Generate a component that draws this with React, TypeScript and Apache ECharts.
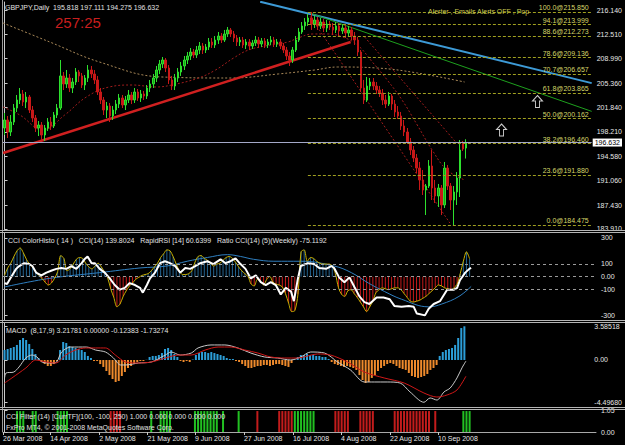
import React, { useEffect, useRef } from "react";
import * as echarts from "echarts";

const W = 625;
const H = 445;
const NCAT = 190;
const FONT = '"Liberation Sans", Arial, sans-serif';
const FS = 7;

// ---------- main pane: daily candles [open, close, low, high] ----------
const candles: number[][] = [
  [198.77, 199.95, 197.74, 200.98], [199.95, 198.18, 197.3, 200.54], [198.18, 199.65, 197.59, 200.68],
  [199.65, 201.71, 199.21, 202.3], [201.71, 202.89, 201.13, 203.63], [202.89, 203.78, 202.3, 204.66],
  [203.78, 202.6, 202.01, 204.36], [202.6, 203.33, 201.71, 204.07], [203.33, 201.42, 200.98, 203.63],
  [201.42, 200.24, 199.65, 202.01], [200.24, 198.77, 198.18, 200.68], [198.77, 199.21, 197.59, 199.8],
  [199.21, 197.74, 197.0, 199.65], [197.74, 198.77, 196.86, 199.21], [198.77, 199.65, 198.33, 200.24],
  [199.65, 199.07, 198.48, 200.39], [199.07, 200.68, 198.77, 201.13], [200.68, 201.71, 200.24, 202.3],
  [201.71, 206.43, 201.42, 208.78], [206.43, 205.25, 204.36, 207.01], [205.25, 206.13, 204.66, 207.31],
  [206.13, 204.66, 204.07, 206.72], [204.66, 205.54, 203.92, 206.13], [205.54, 207.01, 205.1, 207.6],
  [207.01, 206.43, 205.54, 207.31], [206.43, 205.1, 204.66, 206.87], [205.1, 206.13, 204.36, 206.57],
  [206.13, 207.31, 205.54, 208.04], [207.31, 206.72, 206.13, 207.9], [206.72, 205.84, 205.25, 207.31],
  [205.84, 204.07, 203.63, 206.43], [204.07, 202.89, 202.3, 204.66], [202.89, 201.42, 200.68, 203.33],
  [201.42, 202.01, 200.24, 202.6], [202.01, 200.54, 199.65, 202.45], [200.54, 201.42, 199.95, 202.01],
  [201.42, 202.3, 200.83, 202.89], [202.3, 203.19, 201.71, 203.78], [203.19, 202.16, 201.71, 203.63],
  [202.16, 202.89, 201.42, 203.48], [202.89, 203.63, 202.45, 204.36], [203.63, 202.89, 202.3, 204.07],
  [202.89, 204.07, 202.45, 204.66], [204.07, 203.19, 202.75, 204.51], [203.19, 203.78, 202.6, 204.36],
  [203.78, 203.48, 202.89, 204.22], [203.48, 204.66, 203.04, 205.1], [204.66, 205.25, 204.07, 205.84],
  [205.25, 206.13, 204.66, 206.72], [206.13, 207.31, 205.54, 207.9], [207.31, 208.19, 206.72, 208.78],
  [208.19, 208.78, 207.6, 209.22], [208.78, 207.6, 207.01, 209.07], [207.6, 205.84, 205.25, 208.04],
  [205.84, 204.95, 204.36, 206.43], [204.95, 206.13, 204.36, 206.72], [206.13, 207.01, 205.54, 207.6],
  [207.01, 207.9, 206.43, 208.49], [207.9, 208.78, 207.31, 209.37], [208.78, 209.37, 208.19, 209.96],
  [209.37, 209.96, 208.78, 210.55], [209.96, 209.52, 209.07, 210.4], [209.52, 210.25, 209.07, 210.84],
  [210.25, 210.84, 209.66, 211.43], [210.84, 210.25, 209.66, 211.28], [210.25, 210.69, 209.81, 211.14],
  [210.69, 211.43, 210.25, 212.02], [211.43, 210.99, 210.55, 212.02], [210.99, 211.72, 210.55, 212.31],
  [211.72, 212.31, 211.14, 212.9], [212.31, 211.72, 211.28, 212.75], [211.72, 212.61, 211.43, 213.2],
  [212.61, 213.2, 212.17, 213.64], [213.2, 212.61, 212.17, 213.49], [212.61, 212.02, 211.43, 213.05],
  [212.02, 211.43, 210.84, 212.46], [211.43, 211.72, 210.84, 212.17], [211.72, 210.99, 210.55, 212.17],
  [210.99, 211.43, 210.4, 211.87], [211.43, 210.84, 210.25, 211.87], [210.84, 211.28, 210.4, 211.72],
  [211.28, 211.72, 210.84, 212.31], [211.72, 211.14, 210.55, 212.17], [211.14, 211.58, 210.69, 212.02],
  [211.58, 210.99, 210.55, 212.02], [210.99, 211.43, 210.55, 211.87], [211.43, 211.72, 210.99, 212.31],
  [211.72, 211.14, 210.69, 212.17], [211.14, 211.43, 210.69, 211.87], [211.43, 210.84, 210.4, 211.87],
  [210.84, 210.25, 209.81, 211.28], [210.25, 209.37, 208.78, 210.69], [209.37, 208.78, 207.9, 209.96],
  [208.78, 210.25, 208.34, 210.69], [210.25, 211.72, 209.96, 212.31], [211.72, 212.9, 211.43, 213.49],
  [212.9, 213.79, 212.61, 214.37], [213.79, 214.37, 213.2, 214.96], [214.37, 214.96, 213.79, 215.55],
  [214.96, 214.08, 213.2, 215.85], [214.08, 214.67, 213.49, 215.26], [214.67, 213.79, 213.2, 215.11],
  [213.79, 214.37, 213.34, 214.96], [214.37, 213.49, 212.9, 214.82], [213.49, 214.08, 212.9, 214.67],
  [214.08, 213.64, 213.2, 214.52], [213.64, 213.2, 212.46, 214.23], [213.2, 213.79, 212.75, 214.37],
  [213.79, 213.05, 212.31, 214.23], [213.05, 213.49, 212.61, 214.08], [213.49, 212.75, 212.02, 213.93],
  [212.75, 213.2, 212.31, 213.79], [213.2, 212.31, 211.72, 213.64], [212.31, 211.72, 210.99, 212.9],
  [211.72, 209.96, 209.37, 212.17], [209.96, 204.66, 204.07, 210.25], [204.66, 202.89, 202.3, 205.84],
  [202.89, 204.95, 202.6, 206.28], [204.95, 205.54, 204.36, 206.13], [205.54, 204.95, 204.36, 206.13],
  [204.95, 204.36, 203.78, 205.54], [204.36, 203.92, 203.33, 204.95], [203.92, 202.89, 202.16, 204.51],
  [202.89, 202.3, 201.71, 203.63], [202.3, 203.48, 202.01, 204.07], [203.48, 202.3, 201.42, 203.78],
  [202.3, 201.13, 200.39, 202.89], [201.13, 200.54, 200.1, 202.01], [200.54, 199.07, 198.48, 201.13],
  [199.07, 198.18, 197.59, 199.95], [198.18, 196.71, 196.42, 198.77], [196.71, 195.53, 194.8, 197.3],
  [195.53, 194.35, 193.77, 196.12], [194.35, 192.88, 192.15, 194.94], [192.88, 191.12, 189.64, 193.77],
  [191.12, 189.64, 188.91, 192.59], [189.64, 190.23, 185.96, 190.53], [190.23, 193.18, 189.94, 194.06],
  [193.18, 189.94, 188.17, 195.53], [189.94, 188.76, 187.73, 191.12], [188.76, 189.94, 187.14, 190.53],
  [189.94, 187.44, 185.96, 190.38], [187.44, 192.88, 186.99, 193.77], [192.88, 190.23, 189.64, 193.32],
  [190.23, 188.17, 186.7, 190.67], [188.17, 189.35, 184.475, 190.23], [189.35, 191.41, 187.44, 192.29],
  [191.41, 195.53, 188.61, 197.0], [196.42, 195.68, 195.39, 196.86], [195.818, 196.632, 194.275, 197.111],
];

const priceTicks = [216.14, 212.51, 208.99, 205.36, 201.84, 198.21, 194.58, 191.06, 187.43, 183.91];
const lastPrice = 196.632;

const fibPct = [100.0, 94.1, 88.6, 78.6, 70.7, 61.8, 50.0, 38.2, 23.6, 0.0];
const fibPrice = [215.85, 213.999, 212.273, 209.136, 206.657, 203.865, 200.162, 196.46, 191.88, 184.475];
const fibStartBar = 97.9;

// [bar position, price]
const tanMA = [
  [-0.5, 214.23], [14.6, 211.43], [30.6, 208.49], [50.8, 206.28], [73.2, 206.13], [88.3, 206.72],
  [100.1, 207.31], [107.5, 207.75], [120.3, 207.6], [133.2, 206.87], [148.5, 205.54],
];
const redMA = [
  [-0.5, 201.86], [4.95, 200.68], [12.3, 198.48], [19.4, 200.68], [26.4, 203.33], [33.8, 204.81],
  [41.2, 205.1], [48.9, 204.81], [54.0, 205.1], [62.6, 206.13], [68.1, 207.31], [73.9, 209.07],
  [78.7, 210.25], [84.1, 210.84], [91.5, 211.43], [94.7, 212.02], [99.5, 212.61], [104.3, 212.61],
  [109.1, 212.17], [113.9, 210.99], [118.7, 208.49], [123.5, 205.84], [128.3, 202.89], [133.2, 199.21],
  [138.0, 195.53], [142.8, 192.59], [148.5, 191.12],
];
const redTrend = [[-0.5, 195.09], [111.7, 211.43]];
const blueTrend = [[82.5, 217.36], [189.5, 205.38]];
const greenTrend = [[98.5, 215.7], [189.5, 201.22]];
const dotTrend1 = [[97.9, 215.7], [143.7, 184.79]];
const dotTrend2 = [[116.2, 212.17], [145.9, 196.56]];
const arrows = [[172.0, 202.67], [160.4, 198.48]];

// ---------- CCI pane ----------
const cci = [
  10, 68, 105, 157, 201, 223, 186, 135, 98, 76,
  39, 10, -13, -42, -64, -49, -13, 39, 164, 142,
  46, 61, 98, 135, 149, 142, 105, 76, 61, 83,
  105, 76, 39, -5, -93, -160, -233, -211, -152, -108,
  -71, -49, -20, -5, 10, 17, 24, 46, 76, 105,
  149, 179, 208, 201, 157, 98, 46, 17, 17, 24,
  46, 112, 157, 164, 142, 127, 105, 83, 98, 105,
  127, 149, 157, 142, 112, 76, 46, 24, 2, -57,
  -71, -20, -35, -64, -20, 2, -42, -57, -64, -79,
  -130, -204, -270, -262, -137, 193, 208, 120, 149, 142,
  120, 105, 98, 98, 98, 83, 24, -86, -137, -152,
  -108, -100, -130, -160, -196, -233, -270, -233, -189, -123,
  -100, -86, -93, -100, -93, -86, -86, -100, -130, -160,
  -189, -196, -189, -182, -167, -152, -130, -108, -86, -64,
  -71, -86, -93, -100, -86, -57, 24, 120, 193, 139.8,
];
const rapidRsi = [
  [0, -49], [0.8, -56], [2.4, 10], [3.7, 61], [4.7, 83], [6.3, 105], [7.9, 98], [8.9, 83], [10.1, 32],
  [11.8, 10], [13.4, 32], [14.9, 46], [16.6, 61], [18.2, 68], [19.8, 61], [21.4, 83], [23, 61],
  [24.7, 105], [25.6, 135], [26.6, 157], [27.9, 105], [28.9, 105], [30.5, 61], [32.1, 32], [33.7, -13],
  [35.3, -64], [36.9, -100], [38.5, -86], [40.1, -49], [41.8, -64], [43.4, -86], [44.3, -123],
  [45.6, -64], [46.6, -13], [48.2, 32], [49.8, 105], [51.4, 120], [53, 105], [54.7, 83], [56.3, 32],
  [57.9, 68], [59.5, 61], [61.1, 83], [62.7, 105], [65, 120], [66.9, 98], [69.2, 135], [70.8, 105],
  [72.4, 120], [74, 142], [75.6, 98], [77.2, 61], [78.9, -13], [80.5, 10], [82.1, -42], [83.7, -64],
  [85.3, -42], [86.9, -64], [88.5, -137], [90.1, -86], [91.8, -115], [92.7, -189], [94, -13],
  [94.9, 83], [97.2, 105], [99.2, 98], [100.8, 68], [103, 61], [104.7, 83], [105.6, 68], [107.2, -5],
  [108.9, -42], [110.5, -5], [112.1, -79], [113.7, -152], [115.3, -196], [116.9, -211], [119.2, -160],
  [121.4, -160], [123.4, -174], [124.9, -226], [127.2, -233], [129.5, -226], [131.1, -233],
  [132.1, -285], [134.7, -299], [135.9, -248], [137.5, -211], [139.5, -189], [141.8, -100], [144, -100],
  [145, -86], [145.9, -27], [147.6, 32], [148.9, 61], [149.5, 68],
];
const ratioCci = [
  [0, -79], [14.3, -13], [30.5, 32], [43.4, 68], [52, 83], [58.5, 120], [65, 149], [71.4, 171],
  [75.6, 157], [79.8, 135], [86.3, 120], [95, 120], [105.6, 83], [111.1, 32], [116.6, -49],
  [121.8, -115], [127.2, -174], [135.9, -233], [140.1, -211], [145.6, -152], [149.5, -75],
];
const cciTicks = [300, 100, 0, -100, -300];
const cciLevels = [100, 0, -100];

// ---------- MACD pane ----------
const macdHist = [
  1.06, 1.17, 1.28, 1.38, 1.6, 2.13, 2.34, 2.13, 1.7, 1.17,
  0.64, 0.21, -0.21, -0.43, -0.64, -0.64, -0.43, -0.11, 1.06, 1.91,
  1.81, 1.49, 1.38, 1.28, 1.17, 1.06, 0.85, 0.43, 0.21, -0.11,
  -0.11, -0.43, -0.74, -1.17, -1.6, -2.02, -2.34, -2.23, -1.7, -1.28,
  -0.85, -0.64, -0.43, -0.21, -0.11, -0.11, 0.02, 0.32, 0.43, 0.43,
  0.53, 0.74, 1.17, 1.28, 1.06, 0.64, 0.32, -0.11, -0.21, -0.11,
  -0.21, 0.05, 0.53, 0.74, 0.85, 0.85, 0.74, 0.85, 0.74, 0.64,
  0.53, 0.43, 0.21, 0.11, 0.11, -0.11, -0.21, -0.43, -0.64, -0.85,
  -0.85, -0.74, -0.64, -0.64, -0.53, -0.53, -0.64, -0.53, -0.43, -0.43,
  -0.53, -0.64, -0.74, -0.32, 0.05, 0.32, 0.53, 0.53, 0.64, 0.53,
  0.53, 0.43, 0.43, 0.32, 0.32, 0.11, -0.21, -0.43, -0.53, -0.64,
  -0.74, -0.64, -0.74, -0.85, -1.06, -1.6, -2.13, -2.45, -2.34, -1.91,
  -1.6, -1.17, -0.85, -0.64, -0.43, -0.32, -0.43, -0.64, -0.85, -0.96,
  -1.06, -1.38, -1.7, -1.81, -1.91, -1.81, -1.7, -1.49, -1.06, -0.85,
  -0.53, 0.43, 0.85, 1.06, 1.17, 1.28, 1.6, 2.34, 3.4, 3.585,
];
const macdMain = [
  [0, -1.91], [0.5, -1.38], [3, -1.28], [4.7, -0.74], [6.9, 0.21], [8.9, 0.53], [10.5, 0.32],
  [12.1, -0.21], [15.3, -0.32], [16.9, -0.21], [18.5, 0.85], [21.4, 1.38], [24, 1.38], [26.6, 1.38],
  [29.5, 1.06], [32.7, 0.85], [35.3, 0.21], [37.6, -0.53], [39.2, -0.53], [43.4, -0.32], [47.6, -0.21],
  [52.1, 0.53], [54, 0.85], [56.9, 0.53], [60.5, 0.74], [62.7, 1.28], [66.9, 1.6], [71.4, 1.6],
  [75.6, 1.28], [79.8, 0.74], [84.3, 0.32], [88.5, 0.21], [92.7, 0], [96, 0.32], [99.2, 0.85],
  [103.7, 0.74], [107.9, -0.21], [112.1, -1.06], [116.6, -2.34], [119.8, -2.34], [124, -2.34],
  [128.2, -2.45], [131.4, -3.4], [135.9, -4.497], [137.9, -4.04], [140.1, -4.26], [142.4, -3.4],
  [144.4, -2.98], [146.6, -1.91], [148.2, -0.85], [149.5, -0.12],
];
const macdSignal = [
  [0, -2.45], [2.4, -1.91], [6.9, -0.85], [10.1, 0], [13.4, -0.21], [16.6, -0.32], [19.8, 0.53],
  [23, 1.06], [26.3, 1.28], [29.5, 1.28], [32.7, 1.28], [35.9, 0.53], [39.2, -0.21], [43.4, -0.32],
  [47.6, -0.21], [52.1, 0.21], [56.3, 0.53], [60.5, 0.53], [65, 1.06], [69.2, 1.38], [73.4, 1.38],
  [77.9, 1.06], [82.1, 0.74], [86.3, 0.32], [90.8, 0.21], [95, 0.21], [101.4, 0.64], [105.6, 0.53],
  [111.1, -0.21], [116.6, -1.28], [123, -1.91], [129.5, -2.45], [135.9, -3.51], [140.1, -3.94],
  [143.4, -3.72], [146.6, -3.19], [149.5, -1.73],
];
const macdTicks = [3.58518, 0, -4.4968];

// ---------- CCI filter pane: 1 = up (green), -1 = down (red), 0 = none ----------
const filterState = [
  0, 0, 0, 0, 1, 1, 1, 0, 0, 1,
  1, 0, 0, 0, 0, 0, 0, 1, 1, 1,
  1, 0, 0, 0, 0, 0, 0, 0, 0, 0,
  0, 0, 0, 0, -1, -1, -1, -1, 0, 0,
  0, 0, 0, 0, 0, 0, 0, 1, 0, 0,
  1, 1, 1, 1, 0, 0, 0, 0, 0, 0,
  0, 1, 1, 1, 1, 1, 1, 1, 1, 0,
  1, 0, 0, 0, 0, 1, 0, 0, 0, 0,
  0, -1, 0, 0, 0, 0, 0, 0, -1, -1,
  -1, -1, -1, 1, 1, 1, 1, 1, 1, 1,
  0, 0, 0, 0, 0, 0, -1, -1, -1, -1,
  -1, 0, 0, 0, -1, -1, -1, -1, -1, 0,
  0, 0, 0, 0, 0, -1, -1, -1, -1, -1,
  -1, -1, -1, -1, -1, -1, -1, 0, -1, 0,
  0, 0, 0, 0, 0, 0, 0, 1, 1, 1,
];
const filterTicks = [1.05, 0];

// ---------- time axis ----------
const dateTicks = [-0.5, 14.6, 30.3, 45.8, 61, 76.7, 92.4, 107.8, 123.5, 138.9];
const dateLabels = [
  "26 Mar 2008", "14 Apr 2008", "2 May 2008", "21 May 2008", "9 Jun 2008",
  "27 Jun 2008", "16 Jul 2008", "4 Aug 2008", "22 Aug 2008", "10 Sep 2008",
];

function buildOption(): any {
  const cats = Array.from({ length: NCAT }, (_, i) => String(i));
  const grids = [
    { left: 3, top: 2, width: 593, height: 228 },
    { left: 3, top: 233, width: 593, height: 87 },
    { left: 3, top: 323, width: 593, height: 84 },
    { left: 3, top: 410, width: 593, height: 22 },
  ];
  const catAxis = (gi: number, pos: string) => ({
    type: "category", gridIndex: gi, data: cats, boundaryGap: true, show: false, position: pos,
  });
  const valAxis = (gi: number, pos: string) => ({
    type: "value", gridIndex: gi, min: -0.5, max: 189.5, show: false, position: pos,
    splitLine: { show: false },
  });
  const near = (arr: number[], v: number) => arr.findIndex((a) => Math.abs(a - v) < 1e-6);
  const yAx = (gi: number, min: number, max: number, ticks: number[], fmt: (v: number) => string) => ({
    type: "value", gridIndex: gi, min, max, position: "right",
    axisLine: { show: true, lineStyle: { color: "#c8c8c8", width: 1 } },
    axisTick: { show: true, inside: false, length: 3, customValues: ticks, lineStyle: { color: "#c8c8c8" } },
    axisLabel: {
      show: true, customValues: ticks, formatter: fmt, color: "#e6e6e6",
      fontSize: FS, fontFamily: FONT, margin: 5,
    },
    splitLine: { show: false },
  });

  const xAxis = [
    catAxis(0, "bottom"), valAxis(0, "top"),
    catAxis(1, "bottom"), valAxis(1, "top"),
    catAxis(2, "bottom"), valAxis(2, "top"),
    catAxis(3, "top"),
    {
      type: "value", gridIndex: 3, min: -0.5, max: 189.5, position: "bottom",
      axisLine: { show: true, lineStyle: { color: "#a8a8a8" } },
      axisTick: { show: true, length: 3, customValues: dateTicks, lineStyle: { color: "#c8c8c8" } },
      axisLabel: {
        show: true, customValues: dateTicks, align: "left", margin: 3,
        formatter: (v: number) => dateLabels[near(dateTicks, v)] ?? "",
        color: "#e6e6e6", fontSize: FS, fontFamily: FONT,
      },
      splitLine: { show: false },
    },
  ];

  const yAxis = [
    yAx(0, 183.756, 217.318, priceTicks, (v) => v.toFixed(3)),
    yAx(1, -334.8, 338.6, cciTicks, (v) => (v === 0 ? "0.00" : String(v))),
    yAx(2, -5.0, 3.936, macdTicks, (v) => (v === 0 ? "0.00" : v.toFixed(5))),
    yAx(3, 0, 1.05, filterTicks, (v) => v.toFixed(2)),
  ];

  const ln = (name: string, xi: number, yi: number, data: any, color: string, width: number, type: any = "solid", extra: any = {}) => ({
    name, type: "line", xAxisIndex: xi, yAxisIndex: yi, data, showSymbol: false, symbol: "none",
    lineStyle: { color, width, type }, silent: true, z: 3, ...extra,
  });

  const series: any[] = [
    {
      name: "GBPJPY", type: "candlestick", xAxisIndex: 0, yAxisIndex: 0, data: candles, barWidth: 2,
      itemStyle: { color: "#12a812", color0: "#c81818", borderColor: "#2ee02e", borderColor0: "#c81818", borderWidth: 1 },
      z: 4,
      markLine: {
        symbol: "none", silent: true, animation: false,
        lineStyle: { color: "#a4a8c8", width: 1, type: "solid" },
        label: {
          show: true, position: "end", formatter: lastPrice.toFixed(3), backgroundColor: "#ffffff",
          color: "#000", fontSize: FS, fontFamily: FONT, padding: [1, 2, 0, 2], distance: 1,
        },
        data: [{ yAxis: lastPrice }],
      },
    },
    ln("tanMA", 1, 0, tanMA, "#a88858", 1, [2, 2], { smooth: 0.4 }),
    ln("redMA", 1, 0, redMA, "#a01c1c", 1, [2, 2], { smooth: 0.4 }),
    ln("dot1", 1, 0, dotTrend1, "#a01c1c", 1, [2, 2]),
    ln("dot2", 1, 0, dotTrend2, "#a01c1c", 1, [2, 2]),
    ln("redTrend", 1, 0, redTrend, "#d02020", 2.5),
    ln("blueTrend", 1, 0, blueTrend, "#3d9ad6", 2),
    ln("greenTrend", 1, 0, greenTrend, "#1ea01e", 1),
    {
      name: "fib", type: "line", xAxisIndex: 1, yAxisIndex: 0, data: [[fibStartBar, fibPrice[0]]],
      symbol: "none", lineStyle: { width: 0 }, silent: true, z: 2,
      markLine: {
        symbol: "none", silent: true, animation: false,
        lineStyle: { color: "#a0a020", width: 1, type: [3, 2] },
        label: {
          show: true, position: "insideEndTop", formatter: (p: any) => p.name, color: "#d6d66a",
          fontSize: FS, fontFamily: FONT, distance: [3, 1],
        },
        data: fibPrice.map((p, k) => [
          { name: `${fibPct[k].toFixed(1)}@${p.toFixed(3)}`, coord: [fibStartBar, p] },
          { coord: [189.5, p] },
        ]),
      },
    },
    {
      name: "arrows", type: "scatter", xAxisIndex: 1, yAxisIndex: 0, data: arrows,
      symbol: "path://M5,0L10,6L7,6L7,13L3,13L3,6L0,6Z", symbolSize: [10, 12],
      itemStyle: { color: "rgba(0,0,0,0)", borderColor: "#ffffff", borderWidth: 1 }, silent: true, z: 5,
    },
    // CCI pane
    {
      name: "cciHisto", type: "bar", xAxisIndex: 2, yAxisIndex: 1, data: cci, barWidth: 1, silent: true,
      itemStyle: { color: (p: any) => (p.value >= 0 ? "#22628e" : "#c41a1a") },
      markLine: {
        symbol: "none", silent: true, animation: false, label: { show: false },
        lineStyle: { color: "#9a9a9a", width: 1, type: [3, 3] },
        data: cciLevels.map((v) => ({ yAxis: v })),
      },
    },
    ln("ratio", 3, 1, ratioCci, "#2f7fc0", 1, "solid", { smooth: 0.4 }),
    ln("cci", 2, 1, cci, "#c8b000", 1, "solid", { smooth: 0.3 }),
    ln("rapidRsi", 3, 1, rapidRsi, "#ffffff", 2),
    // MACD pane
    {
      name: "macdHist", type: "bar", xAxisIndex: 4, yAxisIndex: 2, data: macdHist, barWidth: 2, silent: true,
      itemStyle: { color: (p: any) => (p.value >= 0 ? "#2c9ed8" : "#ee8a2c") },
    },
    ln("macd", 5, 2, macdMain, "#c8c8c8", 1, "solid", { smooth: 0.3 }),
    ln("signal", 5, 2, macdSignal, "#d01818", 1, "solid", { smooth: 0.3 }),
    // Filter pane
    {
      name: "filter", type: "bar", xAxisIndex: 6, yAxisIndex: 3, barWidth: 2, silent: true,
      data: filterState.map((s) =>
        s === 0 ? null : { value: 1, itemStyle: { color: s > 0 ? "#22c022" : "#c21c1c" } }
      ),
    },
  ];

  const last = candles[candles.length - 1];
  const txt = (text: string, x: number, y: number, fill: string, size: number) => ({
    type: "text", x, y, z: 100, silent: true,
    style: { text, fill, fontSize: size, fontFamily: FONT, verticalAlign: "middle", align: "left" },
  });
  const hline = (y: number) => ({
    type: "line", z: 50, silent: true, shape: { x1: 0, y1: y, x2: W, y2: y },
    style: { stroke: "#b4b4b4", lineWidth: 1 },
  });

  const graphic: any[] = [
    { type: "line", z: 50, silent: true, shape: { x1: 2.5, y1: 0, x2: 2.5, y2: 432 }, style: { stroke: "#9a9a9a", lineWidth: 1 } },
    ...[230.5, 232.5, 320.5, 322.5, 407.5, 409.5].map(hline),
    txt(`GBPJPY,Daily  ${last[0].toFixed(3)} ${last[3].toFixed(3)} ${last[2].toFixed(3)} ${last[1].toFixed(3)}`, 5, 7.5, "#e0e0e0", FS),
    txt("257:25", 55, 22, "#c81e1e", 15),
    txt("Alerter , Emails Alerts OFF , Pop", 428, 11, "#c8c850", FS),
    txt("CCI ColorHisto ( 14 )   CCI(14) 139.8024   RapidRSI [14] 60.6399   Ratio CCI(14) (5)(Weekly) -75.1192", 8, 240, "#e0e0e0", FS),
    txt("MACD  (8,17,9) 3.21781 0.00000 -0.12383 -1.73274", 6, 330, "#e0e0e0", FS),
    txt("CCI Filter (14) [CurrTF](100, -100, 250) 1.000 0.000 0.000 0.000 0.000", 6, 416, "#e0e0e0", FS),
    txt("FxPro MT4, © 2001-2008 MetaQuotes Software Corp.", 6, 427, "#e0e0e0", FS),
  ];

  return {
    animation: false,
    backgroundColor: "#000000",
    textStyle: { fontFamily: FONT },
    grid: grids,
    xAxis,
    yAxis,
    series,
    graphic,
  };
}

export default function App() {
  const ref = useRef<HTMLDivElement>(null);
  useEffect(() => {
    document.body.style.margin = "0";
    document.body.style.background = "#000";
    const chart = echarts.init(ref.current!, null, { renderer: "svg" });
    chart.setOption(buildOption());
    return () => chart.dispose();
  }, []);
  return <div ref={ref} style={{ width: W, height: H }} />;
}
